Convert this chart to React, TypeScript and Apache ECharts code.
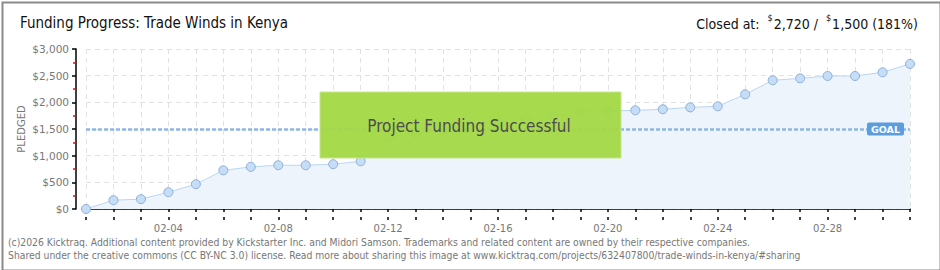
import React, { useEffect, useRef } from "react";
import * as echarts from "echarts";

const categories = [
  "02-01","02-02","02-03","02-04","02-05","02-06","02-07","02-08","02-09","02-10",
  "02-11","02-12","02-13","02-14","02-15","02-16","02-17","02-18","02-19","02-20",
  "02-21","02-22","02-23","02-24","02-25","02-26","02-27","02-28","03-01","03-02","03-03",
];
const pledged = [
  0, 165, 185, 315, 465, 725, 790, 820, 820, 840,
  895, 1345, 1420, 1500, 1570, 1630, 1682, 1731, 1819, 1835,
  1850, 1870, 1905, 1925, 2150, 2413, 2450, 2494, 2494, 2563, 2720,
];
const goal = 1500;
const yTicks = [0, 500, 1000, 1500, 2000, 2500, 3000];
const titleText = "Funding Progress: Trade Winds in Kenya";
const closedAmount = "2,720";
const goalAmount = "1,500";
const percentText = "(181%)";
const footer1 = "(c)2026 Kicktraq. Additional content provided by Kickstarter Inc. and Midori Samson. Trademarks and related content are owned by their respective companies.";
const footer2 = "Shared under the creative commons (CC BY-NC 3.0) license. Read more about sharing this image at www.kicktraq.com/projects/632407800/trade-winds-in-kenya/#sharing";

const NARROW = "'DejaVu Sans Condensed', 'DejaVu Sans', sans-serif";
const AXISF = "'DejaVu Sans', Verdana, sans-serif";

export default function App() {
  const ref = useRef<HTMLDivElement>(null);
  useEffect(() => {
    if (!ref.current) return;
    const chart = echarts.init(ref.current, null, { renderer: "svg" });
    const fmt = (v: number) => "$" + v.toLocaleString("en-US");
    chart.setOption({
      animation: false,
      backgroundColor: "#ffffff",
      grid: { left: 86, right: 30, top: 49, bottom: 61 },
      xAxis: [
        {
          type: "category",
          data: categories,
          boundaryGap: false,
          offset: 11,
          axisLine: { show: true, lineStyle: { color: "#000", width: 1.5 } },
          axisTick: { show: true, interval: 0, length: 3, lineStyle: { color: "#000", width: 1.5 } },
          axisLabel: {
            interval: (i: number) => i % 4 === 3,
            color: "#777",
            fontFamily: AXISF,
            fontSize: 10,
            margin: 3,
          },
          splitLine: { show: true, interval: 0, lineStyle: { color: "#e2e2e2", type: [5, 4] } },
        },
        {
          type: "category",
          data: categories,
          boundaryGap: false,
          position: "bottom",
          offset: 11,
          axisLine: { show: false },
          axisTick: { show: true, inside: true, interval: 0, length: 3, lineStyle: { color: "#000", width: 1.5 } },
          axisLabel: { show: false },
          splitLine: { show: false },
        },
      ],
      yAxis: {
        type: "value",
        min: yTicks[0],
        max: yTicks[yTicks.length - 1],
        interval: 500,
        offset: 10,
        axisLine: { show: true, lineStyle: { color: "#000", width: 1.5 } },
        axisTick: { show: true, length: 4, lineStyle: { color: "#000", width: 1.5 } },
        minorTick: { show: true, splitNumber: 2, length: 3, lineStyle: { color: "#ff0000", width: 1.5 } },
        axisLabel: { formatter: fmt, color: "#777", fontFamily: AXISF, fontSize: 10.5, margin: 7 },
        splitLine: { show: true, lineStyle: { color: "#e2e2e2", type: [5, 4] } },
      },
      series: [
        {
          type: "line",
          data: pledged,
          symbol: "circle",
          symbolSize: 9,
          showAllSymbol: true,
          lineStyle: { color: "#b9d6f3", width: 1 },
          itemStyle: { color: "#c6ddf7", borderColor: "#8eafd6", borderWidth: 1 },
          areaStyle: { color: "#edf4fc", opacity: 1 },
          z: 3,
        },
        {
          type: "line",
          data: [],
          z: 5,
          markLine: {
            silent: true,
            symbol: "none",
            data: [{ yAxis: goal }],
            lineStyle: { color: "#8fb7e6", width: 2.5, type: [4, 2] },
            label: {
              show: true,
              position: "insideEnd",
              distance: [6, 0],
              formatter: "GOAL",
              color: "#fff",
              fontFamily: AXISF,
              fontWeight: "bold",
              fontSize: 9.5,
              backgroundColor: "#5c9de0",
              borderRadius: 2,
              padding: [2, 4, 1, 4],
            },
          },
        },
      ],
      graphic: [
        {
          type: "rect",
          left: 0,
          top: 0,
          shape: { x: 0, y: 0, width: 938, height: 268 },
          style: { fill: "none", stroke: "#8a8a8a", lineWidth: 2 },
          z: 100,
        },
        {
          type: "text",
          left: 20,
          top: 15,
          style: { text: titleText, font: `15px ${NARROW}`, fill: "#111" },
        },
        {
          type: "text",
          right: 22,
          top: 13,
          style: {
            text: `{a|Closed at:  }{s|$}{a|${closedAmount} /  }{s|$}{a|${goalAmount} ${percentText}}`,
            rich: {
              a: { font: `14px ${NARROW}`, fill: "#111", verticalAlign: "bottom", lineHeight: 18 },
              s: { font: `9px ${NARROW}`, fill: "#111", verticalAlign: "top", lineHeight: 18, padding: [0, 1, 0, 0] },
            },
          },
        },
        {
          type: "text",
          x: 21,
          y: 129,
          rotation: Math.PI / 2,
          style: {
            text: "PLEDGED",
            font: `10px ${AXISF}`,
            fill: "#777",
            align: "center",
            verticalAlign: "middle",
          },
        },
        {
          type: "rect",
          shape: { x: 320, y: 92, width: 301, height: 66 },
          style: { fill: "rgba(163,216,68,0.95)", stroke: "#c3e68a", lineWidth: 1 },
          z: 50,
        },
        {
          type: "text",
          x: 469,
          y: 126,
          z: 51,
          style: {
            text: "Project Funding Successful",
            font: `17px ${NARROW}`,
            fill: "#4d4d4d",
            align: "center",
            verticalAlign: "middle",
            textShadowColor: "#fff",
            textShadowOffsetX: 1,
            textShadowOffsetY: 1,
            textShadowBlur: 0,
          },
        },
        {
          type: "text",
          left: 8,
          top: 237,
          style: { text: footer1, font: `10.3px ${NARROW}`, fill: "#777" },
        },
        {
          type: "text",
          left: 8,
          top: 250,
          style: { text: footer2, font: `10.3px ${NARROW}`, fill: "#777" },
        },
      ],
    });
    return () => chart.dispose();
  }, []);
  return (
    <div style={{ position: "fixed", left: 0, top: 0, width: 940, height: 270 }}>
      <div ref={ref} style={{ width: 940, height: 270 }} />
    </div>
  );
}
